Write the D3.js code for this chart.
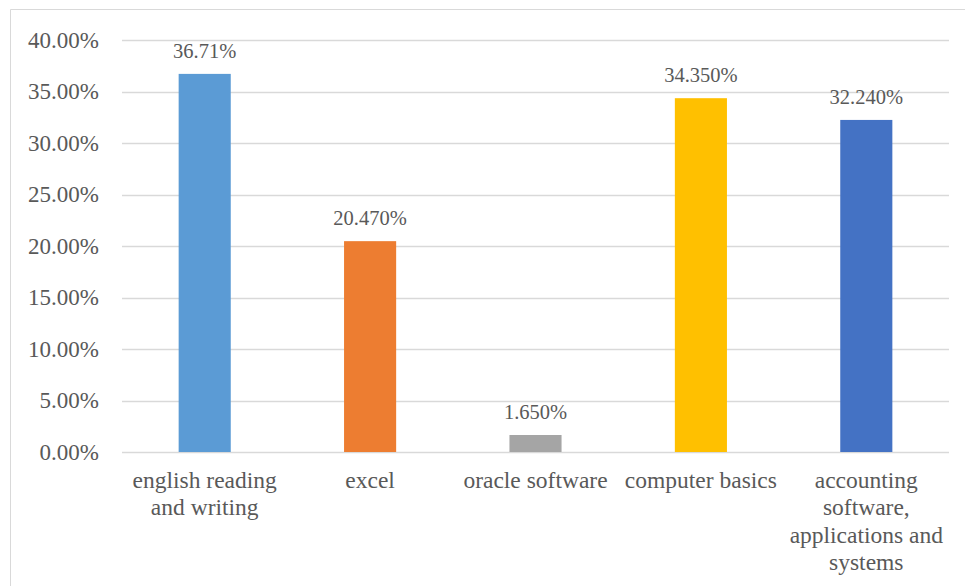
<!DOCTYPE html>
<html>
<head>
<meta charset="utf-8">
<script src="https://cdn.jsdelivr.net/npm/d3@7"></script>
<style>
  body { margin: 0; background: #fff; }
  svg { display: block; }
</style>
</head>
<body>
<div id="chart"></div>
<script>
// chart data
var categories = [
  ["english reading", "and writing"],
  ["excel"],
  ["oracle software"],
  ["computer basics"],
  ["accounting", "software,", "applications and", "systems"]
];
var values = [36.71, 20.47, 1.65, 34.35, 32.24];
var valueLabels = ["36.71%", "20.470%", "1.650%", "34.350%", "32.240%"];
var barColors = ["#5B9BD5", "#ED7D31", "#A5A5A5", "#FFC000", "#4472C4"];
var yTicks = [0, 5, 10, 15, 20, 25, 30, 35, 40];

var FONT = "'Liberation Serif', 'Times New Roman', serif";
var TEXT_COLOR = "#595959";

function drawChart() {
  var width = 965, height = 586;
  var margin = { top: 40, right: 16, bottom: 134, left: 122 };
  var plotW = width - margin.left - margin.right;
  var plotH = height - margin.top - margin.bottom;

  var svg = d3.select("#chart").append("svg")
    .attr("width", width)
    .attr("height", height);

  // chart area border (cropped on the right and bottom)
  svg.append("path")
    .attr("d", "M10.5," + height + "V9.5H" + width)
    .attr("fill", "none")
    .attr("stroke", "#d9d9d9")
    .attr("stroke-width", 1);

  var g = svg.append("g")
    .attr("transform", "translate(" + margin.left + "," + margin.top + ")");

  var x = d3.scaleBand()
    .domain(d3.range(categories.length))
    .range([0, plotW])
    .paddingInner(0.685)
    .paddingOuter(0.3425);

  var y = d3.scaleLinear()
    .domain([0, 40])
    .range([plotH, 0]);

  // gridlines
  g.append("g")
    .selectAll("line")
    .data(yTicks)
    .join("line")
      .attr("x1", 0)
      .attr("x2", plotW)
      .attr("y1", d => Math.round(y(d)) + 0.5)
      .attr("y2", d => Math.round(y(d)) + 0.5)
      .attr("stroke", "#d9d9d9")
      .attr("stroke-width", 1.5);

  // y axis labels
  var yAxis = g.append("g")
    .attr("transform", "translate(-23,0)")
    .call(d3.axisLeft(y).tickValues(yTicks).tickSize(0).tickPadding(0)
      .tickFormat(d => d.toFixed(2) + "%"));
  yAxis.select(".domain").remove();
  yAxis.selectAll("text")
    .attr("fill", TEXT_COLOR)
    .style("font-family", FONT)
    .style("font-size", "23px");

  // bars
  g.selectAll("rect.bar")
    .data(values)
    .join("rect")
      .attr("class", "bar")
      .attr("x", (d, i) => x(i))
      .attr("width", x.bandwidth())
      .attr("y", d => y(d))
      .attr("height", d => y(0) - y(d))
      .attr("fill", (d, i) => barColors[i]);

  // value labels
  g.selectAll("text.value")
    .data(values)
    .join("text")
      .attr("class", "value")
      .attr("x", (d, i) => x(i) + x.bandwidth() / 2)
      .attr("y", d => y(d) - 16)
      .attr("text-anchor", "middle")
      .attr("fill", TEXT_COLOR)
      .style("font-family", FONT)
      .style("font-size", "20.5px")
      .text((d, i) => valueLabels[i]);

  // category labels
  var cat = g.selectAll("text.cat")
    .data(categories)
    .join("text")
      .attr("class", "cat")
      .attr("text-anchor", "middle")
      .attr("fill", TEXT_COLOR)
      .style("font-family", FONT)
      .style("font-size", "23.5px")
      .attr("transform", (d, i) => "translate(" + (x(i) + x.bandwidth() / 2) + "," + (plotH + 36) + ")");
  cat.selectAll("tspan")
    .data(d => d)
    .join("tspan")
      .attr("x", 0)
      .attr("y", (d, i) => i * 27.4)
      .text(d => d);
}
drawChart();
</script>
</body>
</html>
